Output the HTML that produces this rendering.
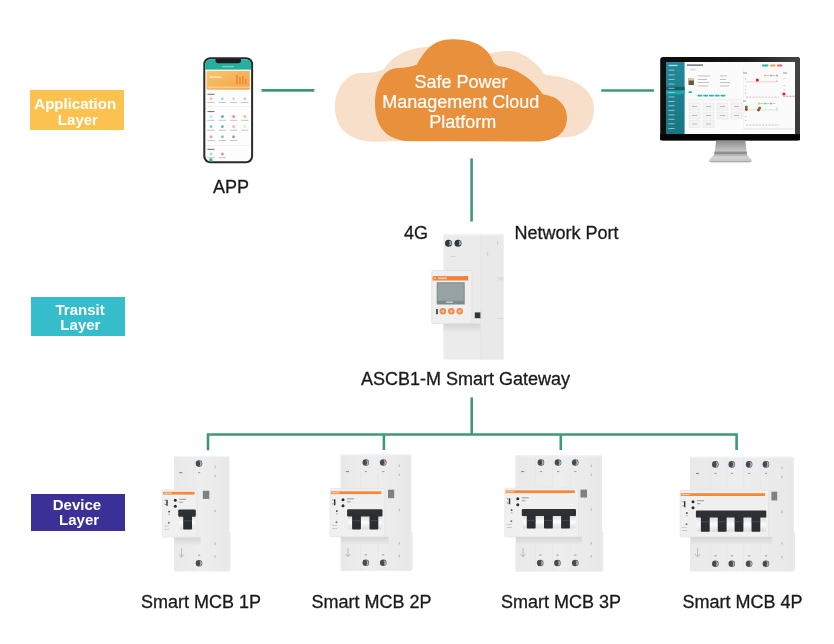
<!DOCTYPE html>
<html><head><meta charset="utf-8">
<style>
html,body{margin:0;padding:0;background:#fff;}
body{width:834px;height:644px;overflow:hidden;position:relative;font-family:"Liberation Sans",sans-serif;}
svg{position:absolute;left:0;top:0;will-change:transform;}
</style></head><body>
<svg width="834" height="644" viewBox="0 0 834 644">
<defs>
  <linearGradient id="banner" x1="0" y1="0" x2="1" y2="1">
    <stop offset="0" stop-color="#F9C56A"/><stop offset="1" stop-color="#F5A24A"/>
  </linearGradient>
  <linearGradient id="neck" x1="0" y1="0" x2="0" y2="1">
    <stop offset="0" stop-color="#8a8a8a"/><stop offset="0.8" stop-color="#c9c9c9"/><stop offset="1" stop-color="#d0d0d0"/>
  </linearGradient>
  <linearGradient id="base" x1="0" y1="0" x2="0" y2="1">
    <stop offset="0" stop-color="#a8a8a8"/><stop offset="0.3" stop-color="#d4d4d4"/><stop offset="0.8" stop-color="#c8c8c8"/><stop offset="1" stop-color="#8e8e8e"/>
  </linearGradient>
  <linearGradient id="side" x1="0" y1="0" x2="0" y2="1">
    <stop offset="0" stop-color="#23899A"/><stop offset="1" stop-color="#187584"/>
  </linearGradient>
  <filter id="soft" x="-5%" y="-5%" width="110%" height="110%" color-interpolation-filters="sRGB"><feGaussianBlur stdDeviation="0.35"/></filter>
  <linearGradient id="body" x1="0" y1="0" x2="1" y2="0">
    <stop offset="0" stop-color="#e6e6e6"/><stop offset="0.5" stop-color="#f0f0f0"/><stop offset="1" stop-color="#e2e2e2"/>
  </linearGradient>
  <linearGradient id="mcbbody" x1="0" y1="0" x2="1" y2="0">
    <stop offset="0" stop-color="#e9e9e9"/><stop offset="0.5" stop-color="#eeeeee"/><stop offset="1" stop-color="#e8e8e8"/>
  </linearGradient>
  <linearGradient id="shade" x1="0" y1="0" x2="0" y2="1">
    <stop offset="0" stop-color="#d4d4d4"/><stop offset="1" stop-color="#e9e9e9"/>
  </linearGradient>
  <linearGradient id="roller" x1="0" y1="0" x2="0" y2="1">
    <stop offset="0" stop-color="#d8d8d8"/><stop offset="0.5" stop-color="#fbfbfb"/><stop offset="1" stop-color="#dddddd"/>
  </linearGradient>
  <linearGradient id="bezel" x1="700" y1="60" x2="800" y2="120" gradientUnits="userSpaceOnUse">
    <stop offset="0" stop-color="#0e0e0e"/><stop offset="0.35" stop-color="#1a1a1a"/><stop offset="0.7" stop-color="#444"/><stop offset="1" stop-color="#3a3a3a"/>
  </linearGradient>
</defs>

<!-- layer boxes -->
<rect x="30" y="90" width="94" height="40" fill="#FBC24F"/>
<rect x="31" y="297" width="94" height="39" fill="#35BDCC"/>
<rect x="31" y="494" width="94" height="37" fill="#3A3096"/>
<g font-family="Liberation Sans" font-weight="bold" font-size="14" fill="#fff" text-anchor="middle">
  <text x="0" y="108.8" transform="translate(75.2 0) scale(1.075 1)">Application</text>
  <text x="0" y="124.7" transform="translate(77.9 0) scale(1.075 1)">Layer</text>
  <text x="0" y="314.7" transform="translate(80.1 0) scale(1.075 1)">Transit</text>
  <text x="0" y="329.9" transform="translate(80.4 0) scale(1.075 1)">Layer</text>
  <text x="0" y="509.7" transform="translate(76.9 0) scale(1.075 1)">Device</text>
  <text x="0" y="525.2" transform="translate(79.1 0) scale(1.075 1)">Layer</text>
</g>

<!-- green lines -->
<g stroke="#3C9B77" stroke-width="2.6" fill="none" stroke-linecap="butt">
  <line x1="261.5" y1="90.4" x2="314.3" y2="90.4"/>
  <line x1="601.2" y1="90.5" x2="653.9" y2="90.5"/>
  <line x1="471.6" y1="158.4" x2="471.6" y2="221.6"/>
  <line x1="471.7" y1="397.4" x2="471.7" y2="434.5"/>
  <polyline points="208,450.3 208,434.5 736.6,434.5 736.6,450"/>
  <line x1="383.9" y1="434.5" x2="383.9" y2="450"/>
  <line x1="560.8" y1="434.5" x2="560.8" y2="450"/>
</g>
<!-- cloud -->
<path d="M372 141.8 C346 140 335 126 335 107 C335 88 347 73 361 73 C372 73 379 72 384 69 C393 55 408 48 426 47 C445 46 460 50 475 58 C490 52 500 51 510 51 C520 51 533 60 540 68 C542 71 544 74 546 75 C575 77 594 90 594 108 C594 126 585 137 562 137.5 Z" fill="#F8DFC9"/>
<path d="M410 141.3 C385 140.5 375 125 375 104 C375 82 385 68 398 68 C406 68 412 66.5 417 64.5 C424 52 432 39.3 452 39.3 C472 39.3 487 45 493.5 62.4 C496 65 499 66.3 501 66.5 C520 69 535 82 543 94.6 C558 96 567 106 567 117.3 C567 132 557 141 538 141.5 Z" fill="#E8903B"/>
<g font-family="Liberation Sans" font-size="18" fill="#fff" stroke="#fff" stroke-width="0.2" text-anchor="middle">
  <text x="461" y="88.2">Safe Power</text>
  <text x="460.8" y="107.9">Management Cloud</text>
  <text x="462.8" y="127.6">Platform</text>
</g>

<!-- phone -->
<g filter="url(#soft)">
<rect x="203.3" y="57.3" width="49.8" height="106" rx="7" fill="#2a2a2a"/>
<rect x="205.3" y="59.2" width="45.8" height="102" rx="5.2" fill="#fdfdfd"/>
<path d="M205.3 69.8 V64.4 A5.2 5.2 0 0 1 210.5 59.2 H245.9 A5.2 5.2 0 0 1 251.1 64.4 V69.8 Z" fill="#26AE9F"/>
<path d="M215.5 59 H241 V60.5 Q241 63.3 238 63.3 H218.5 Q215.5 63.3 215.5 60.5 Z" fill="#1c1c1c"/>
<rect x="222" y="66.2" width="12" height="1" fill="#8fd6cc"/>
<rect x="205.3" y="69.8" width="45.8" height="1.2" fill="#e9f3f1"/>
<rect x="206.6" y="71" width="43.2" height="18.7" rx="1" fill="url(#banner)"/>
<rect x="209.5" y="76.5" width="12" height="1.2" fill="#fff3dc"/>
<rect x="209.5" y="79.8" width="7.5" height="1.6" fill="#c9c77a"/>
<rect x="236" y="75" width="1.8" height="9" fill="#EE8F3A"/>
<rect x="239" y="77" width="1.8" height="7" fill="#EE8F3A"/>
<rect x="242" y="75.8" width="1.8" height="8.2" fill="#EE8F3A"/>
<rect x="245" y="79" width="1.6" height="5" fill="#EE8F3A"/>
<rect x="206.6" y="86.5" width="43.2" height="1.6" fill="#f9c98a"/>
<rect x="207.5" y="93.80000000000001" width="7" height="1.1" fill="#777"/>
<circle cx="211" cy="98.8" r="1.5" fill="#F7C19B"/>
<rect x="207.4" y="102.0" width="7.2" height="1" fill="#c4c4c4"/>
<circle cx="222.4" cy="98.8" r="1.5" fill="#ABDFE1"/>
<rect x="218.8" y="102.0" width="7.2" height="1" fill="#c4c4c4"/>
<circle cx="233.6" cy="98.8" r="1.5" fill="#F9D1C1"/>
<rect x="230.0" y="102.0" width="7.2" height="1" fill="#c4c4c4"/>
<circle cx="244.8" cy="98.8" r="1.5" fill="#DBD6B2"/>
<rect x="241.20000000000002" y="102.0" width="7.2" height="1" fill="#c4c4c4"/>
<rect x="206.5" y="106" width="43.5" height="0.8" fill="#eeeeee"/>
<rect x="207.5" y="111.0" width="7" height="1.1" fill="#777"/>
<circle cx="211" cy="116.6" r="1.5" fill="#BFE6E6"/>
<rect x="207.4" y="119.8" width="7.2" height="1" fill="#c4c4c4"/>
<circle cx="222.4" cy="116.6" r="1.5" fill="#6CB49E"/>
<rect x="218.8" y="119.8" width="7.2" height="1" fill="#c4c4c4"/>
<circle cx="233.6" cy="116.6" r="1.5" fill="#F39388"/>
<rect x="230.0" y="119.8" width="7.2" height="1" fill="#c4c4c4"/>
<circle cx="244.8" cy="116.6" r="1.5" fill="#F6C77E"/>
<rect x="241.20000000000002" y="119.8" width="7.2" height="1" fill="#c4c4c4"/>
<circle cx="211" cy="126.5" r="1.5" fill="#8CCBD6"/>
<rect x="207.4" y="129.7" width="7.2" height="1" fill="#c4c4c4"/>
<circle cx="222.4" cy="126.5" r="1.5" fill="#77B6C1"/>
<rect x="218.8" y="129.7" width="7.2" height="1" fill="#c4c4c4"/>
<circle cx="233.6" cy="126.5" r="1.5" fill="#F8C1A2"/>
<rect x="230.0" y="129.7" width="7.2" height="1" fill="#c4c4c4"/>
<circle cx="244.8" cy="126.5" r="1.5" fill="#D5ECF3"/>
<rect x="241.20000000000002" y="129.7" width="7.2" height="1" fill="#c4c4c4"/>
<circle cx="211" cy="136.8" r="1.5" fill="#F09FAF"/>
<rect x="207.4" y="140.0" width="7.2" height="1" fill="#c4c4c4"/>
<circle cx="222.4" cy="136.8" r="1.5" fill="#8ACB9E"/>
<rect x="218.8" y="140.0" width="7.2" height="1" fill="#c4c4c4"/>
<circle cx="233.6" cy="136.8" r="1.5" fill="#9E9EB6"/>
<rect x="230.0" y="140.0" width="7.2" height="1" fill="#c4c4c4"/>
<rect x="206.5" y="145.2" width="43.5" height="0.8" fill="#eeeeee"/>
<rect x="207.5" y="148.8" width="7" height="1.1" fill="#777"/>
<circle cx="211" cy="154" r="1.5" fill="#A9DFD7"/>
<rect x="207.4" y="157.2" width="7.2" height="1" fill="#c4c4c4"/>
<circle cx="222.4" cy="154" r="1.5" fill="#F08AA9"/>
<rect x="218.8" y="157.2" width="7.2" height="1" fill="#c4c4c4"/>
<circle cx="210.8" cy="160" r="1.8" fill="#3BB3A0"/>
</g>
<!-- monitor -->
<g filter="url(#soft)">
<rect x="660.2" y="56.9" width="139.8" height="83.5" rx="3" fill="#0e0e0e"/>
<path fill-rule="evenodd" d="M700 56.9 H797 Q800 56.9 800 60 V134.3 H700 Z M700 62 V134 H795 V62 Z" fill="url(#bezel)"/>
<rect x="666" y="62" width="129" height="72" fill="#fbfbfb"/>
<rect x="666" y="62" width="18.6" height="72" fill="url(#side)"/>
<rect x="668.5" y="64.8" width="9" height="1.3" fill="#b5dbe0"/>
<rect x="666" y="86.8" width="18.6" height="3.4" fill="#155E6A"/>
<rect x="666" y="90.6" width="18.6" height="3.6" fill="#1FA7A8"/>
<rect x="668.5" y="69.7" width="6" height="0.9" fill="#9fcbd2"/>
<rect x="668.5" y="74.5" width="6" height="0.9" fill="#9fcbd2"/>
<rect x="668.5" y="79.0" width="6" height="0.9" fill="#9fcbd2"/>
<rect x="668.5" y="83.6" width="6" height="0.9" fill="#9fcbd2"/>
<rect x="668.5" y="87.8" width="6" height="0.9" fill="#9fcbd2"/>
<rect x="668.5" y="92.0" width="6" height="0.9" fill="#9fcbd2"/>
<rect x="668.5" y="96.5" width="6" height="0.9" fill="#9fcbd2"/>
<rect x="668.5" y="101.1" width="6" height="0.9" fill="#9fcbd2"/>
<rect x="668.5" y="105.3" width="6" height="0.9" fill="#9fcbd2"/>
<rect x="668.5" y="109.9" width="6" height="0.9" fill="#9fcbd2"/>
<rect x="668.5" y="114.4" width="6" height="0.9" fill="#9fcbd2"/>
<rect x="668.5" y="118.8" width="6" height="0.9" fill="#9fcbd2"/>
<rect x="668.5" y="123.4" width="6" height="0.9" fill="#9fcbd2"/>
<rect x="668.5" y="128.0" width="6" height="0.9" fill="#9fcbd2"/>
<rect x="687" y="64.5" width="16" height="1.2" fill="#555"/>
<rect x="690" y="68.8" width="6" height="1.6" rx="0.8" fill="#bde6df"/>
<rect x="688.5" y="78" width="5.5" height="7" fill="#6b5a3a"/>
<rect x="688.5" y="78" width="5.5" height="2.5" fill="#d8c9a0"/>
<rect x="688.5" y="91.3" width="3.5" height="1.8" rx="0.9" fill="#29B3A8"/>
<rect x="697.3" y="94.8" width="5" height="1.8" rx="0.8" fill="#26B8A8"/><rect x="703.1" y="94.8" width="5" height="1.8" rx="0.8" fill="#26B8A8"/><rect x="708.9" y="94.8" width="5" height="1.8" rx="0.8" fill="#26B8A8"/><rect x="714.7" y="94.8" width="5" height="1.8" rx="0.8" fill="#26B8A8"/><rect x="720.5" y="94.8" width="5" height="1.8" rx="0.8" fill="#26B8A8"/>
<rect x="698" y="75.5" width="12" height="0.9" fill="#bbb"/>
<rect x="698" y="79" width="9" height="0.9" fill="#bbb"/>
<rect x="698" y="82" width="11" height="0.9" fill="#bbb"/>
<rect x="698" y="85.5" width="10" height="0.9" fill="#bbb"/>
<rect x="720" y="75.5" width="7" height="0.9" fill="#bbb"/>
<rect x="720" y="79" width="6" height="0.9" fill="#bbb"/>
<rect x="720" y="82" width="10" height="0.9" fill="#bbb"/>
<rect x="720" y="85.5" width="9" height="0.9" fill="#bbb"/>
<rect x="687" y="99.6" width="55" height="0.6" fill="#e3e3e3"/>
<rect x="689" y="103" width="11" height="7" fill="#f3f3f3" stroke="#e2e2e2" stroke-width="0.5"/>
<rect x="692" y="106" width="5" height="0.9" fill="#b5b5b5"/>
<rect x="703" y="103" width="11" height="7" fill="#f3f3f3" stroke="#e2e2e2" stroke-width="0.5"/>
<rect x="706" y="106" width="5" height="0.9" fill="#b5b5b5"/>
<rect x="717" y="103" width="11" height="7" fill="#f3f3f3" stroke="#e2e2e2" stroke-width="0.5"/>
<rect x="720" y="106" width="5" height="0.9" fill="#b5b5b5"/>
<rect x="731" y="103" width="11" height="7" fill="#f3f3f3" stroke="#e2e2e2" stroke-width="0.5"/>
<rect x="734" y="106" width="5" height="0.9" fill="#b5b5b5"/>
<rect x="689" y="112" width="11" height="7" fill="#f3f3f3" stroke="#e2e2e2" stroke-width="0.5"/>
<rect x="692" y="115" width="5" height="0.9" fill="#b5b5b5"/>
<rect x="703" y="112" width="11" height="7" fill="#f3f3f3" stroke="#e2e2e2" stroke-width="0.5"/>
<rect x="706" y="115" width="5" height="0.9" fill="#b5b5b5"/>
<rect x="717" y="112" width="11" height="7" fill="#f3f3f3" stroke="#e2e2e2" stroke-width="0.5"/>
<rect x="720" y="115" width="5" height="0.9" fill="#b5b5b5"/>
<rect x="731" y="112" width="11" height="7" fill="#f3f3f3" stroke="#e2e2e2" stroke-width="0.5"/>
<rect x="734" y="115" width="5" height="0.9" fill="#b5b5b5"/>
<rect x="689" y="120.5" width="11" height="7" fill="#f3f3f3" stroke="#e2e2e2" stroke-width="0.5"/>
<rect x="692" y="123.5" width="5" height="0.9" fill="#b5b5b5"/>
<rect x="703" y="120.5" width="11" height="7" fill="#f3f3f3" stroke="#e2e2e2" stroke-width="0.5"/>
<rect x="706" y="123.5" width="5" height="0.9" fill="#b5b5b5"/>
<rect x="743" y="68" width="0.6" height="62" fill="#eeeeee"/>
<rect x="762" y="64.6" width="6.5" height="1.8" rx="0.9" fill="#22B5B5"/>
<rect x="770" y="64.6" width="5.5" height="1.8" rx="0.9" fill="#F5A53A"/>
<rect x="777" y="64.6" width="5.5" height="1.8" rx="0.9" fill="#F0607A"/>
<rect x="746" y="81.6" width="30" height="0.6" fill="#f2b0b0"/>
<rect x="746" y="109.6" width="32" height="0.6" fill="#b0e0b0"/>
<circle cx="757.3" cy="80" r="1.6" fill="#d42020"/>
<circle cx="783.9" cy="94" r="1.6" fill="#e02020"/><rect x="784" y="95.8" width="11" height="0.6" fill="#f2b0b0"/>
<circle cx="746.3" cy="107" r="1.5" fill="#1a9a4a"/>
<circle cx="746.3" cy="109.5" r="1.4" fill="#e02020"/>
<circle cx="759.6" cy="108" r="1.5" fill="#1a9a4a"/>
<circle cx="758.5" cy="110" r="1.4" fill="#e02020"/>
<line x1="746" y1="97.2" x2="779" y2="97.2" stroke="#b8b8b8" stroke-width="0.8" stroke-dasharray="2 1.2"/>
<line x1="746" y1="125" x2="779" y2="125" stroke="#b8b8b8" stroke-width="0.8" stroke-dasharray="2 1.2"/>
<line x1="783" y1="96.4" x2="795" y2="96.4" stroke="#b8b8b8" stroke-width="0.8" stroke-dasharray="2 1.2"/>
<rect x="743" y="72.5" width="4" height="1" fill="#9a9a9a"/>
<rect x="743" y="100.5" width="3" height="1" fill="#9a9a9a"/>
<rect x="783" y="72.5" width="4" height="1" fill="#9a9a9a"/>
<circle cx="765" cy="75.5" r="0.9" fill="#F5B040"/><rect x="766.3" y="75" width="3" height="0.8" fill="#bbb"/>
<circle cx="771" cy="75.5" r="0.9" fill="#5CC070"/><rect x="772.3" y="75" width="3" height="0.8" fill="#bbb"/>
<circle cx="777" cy="75.5" r="0.9" fill="#F07080"/>
<circle cx="759" cy="103.5" r="0.9" fill="#F5B040"/><rect x="760.3" y="103" width="3" height="0.8" fill="#bbb"/>
<circle cx="765" cy="103.5" r="0.9" fill="#5CC070"/><rect x="766.3" y="103" width="3" height="0.8" fill="#bbb"/>
<circle cx="771" cy="103.5" r="0.9" fill="#F07080"/><rect x="772.3" y="103" width="3" height="0.8" fill="#bbb"/>
<rect x="745" y="78.5" width="1.2" height="0.8" fill="#bbb"/>
<rect x="745" y="85.5" width="1.2" height="0.8" fill="#bbb"/>
<rect x="745" y="89.5" width="1.2" height="0.8" fill="#bbb"/>
<rect x="745" y="93" width="1.2" height="0.8" fill="#bbb"/>
<rect x="745" y="116" width="1.2" height="0.8" fill="#bbb"/>
<rect x="745" y="120" width="1.2" height="0.8" fill="#bbb"/>
<rect x="783.5" y="78" width="1.2" height="0.8" fill="#bbb"/>
<rect x="783.5" y="85" width="1.2" height="0.8" fill="#bbb"/>
<rect x="783.5" y="89" width="1.2" height="0.8" fill="#bbb"/>
<rect x="776" y="80.5" width="2" height="1.5" fill="#ccc"/>
<rect x="776" y="107.5" width="2" height="3" fill="#cfe5d5"/>

<rect x="744" y="128" width="51" height="1.8" fill="#e8f2ee"/>
<rect x="660.2" y="134.3" width="139.8" height="6" fill="#050505"/>
<path d="M716.2 140.4 H745.3 L746.8 154.5 H714.4 Z" fill="url(#neck)"/>
<rect x="714.4" y="151.5" width="32.4" height="3" fill="#8e8e8e"/>
<path d="M714.4 154.5 H746.8 L751.8 160 Q751.8 162.3 749 162.3 H712 Q709 162.3 709 160 Z" fill="url(#base)"/>
</g>
<!-- gateway -->
<g filter="url(#soft)">
<rect x="443.5" y="234.2" width="60" height="125.2" rx="1.5" fill="#ebebeb"/>
<rect x="480" y="234.2" width="23.5" height="125.2" fill="#e9e9e9"/>
<rect x="480" y="234.2" width="0.5" height="125.2" fill="#e2e2e2"/>
<rect x="443.5" y="234.2" width="60" height="1.2" fill="#f4f4f4"/>
<rect x="498" y="277" width="5.5" height="3.5" fill="#dddddd"/>
<rect x="498" y="318" width="5.5" height="1" fill="#d6d6d6"/>
<rect x="487" y="252" width="1.2" height="4" fill="#d0d0d0"/>
<rect x="497" y="241" width="1.2" height="4" fill="#d0d0d0"/>
<rect x="450" y="256" width="6" height="0.8" fill="#d2d2d2"/>
<circle cx="448.5" cy="243.2" r="3.5" fill="#30363e"/>
<circle cx="458" cy="243.2" r="3.5" fill="#30363e"/>
<path d="M449.1 240.8 A2.4 2.4 0 0 1 449.1 245.6 Q450.4 243.2 449.1 240.8 Z" fill="#a8b0b8"/>
<path d="M458.6 240.8 A2.4 2.4 0 0 1 458.6 245.6 Q459.9 243.2 458.6 240.8 Z" fill="#a8b0b8"/>
<rect x="443.5" y="323.6" width="37" height="9" fill="url(#shade)"/>
<rect x="431.7" y="270.5" width="40.3" height="53.1" rx="1" fill="#efefef" stroke="#dadada" stroke-width="0.6"/>
<rect x="432.6" y="276.1" width="35.6" height="4.4" fill="#F0803A"/>
<rect x="434" y="277.5" width="2" height="1.5" fill="#fbd3b0"/>
<rect x="438" y="277.3" width="9" height="2" fill="#f9c49a"/>
<rect x="436.7" y="282.3" width="28" height="22.2" rx="0.6" fill="#7b8a90"/>
<rect x="437.7" y="283.3" width="26" height="17.5" fill="#98a2a2"/>
<rect x="446" y="301.5" width="7" height="1.4" fill="#c8d0d2"/>
<rect x="436.2" y="309" width="1.6" height="5.2" fill="#333"/>
<circle cx="442.9" cy="311.3" r="3.3" fill="#F08C4C"/>
<circle cx="451.3" cy="311.3" r="3.3" fill="#F08C4C"/>
<circle cx="459.7" cy="311.3" r="3.3" fill="#F08C4C"/>
<circle cx="442.9" cy="311.3" r="1.5" fill="#f6b98c"/>
<circle cx="451.3" cy="311.3" r="1.5" fill="#f6b98c"/>
<circle cx="459.7" cy="311.3" r="1.5" fill="#f6b98c"/>
<rect x="474.8" y="312.4" width="5.6" height="5.8" fill="#2c3a40"/>
<rect x="481" y="309" width="1" height="11" fill="#e0e0e0"/>
</g>
<g id="mcbs" filter="url(#soft)">
<!-- MCB 1P -->
<rect x="174" y="456" width="55.3" height="115.5" rx="1" fill="url(#mcbbody)"/>
<rect x="227.5" y="532.3" width="3" height="38.2" fill="#e9e9e9"/>
<rect x="174.0" y="456.0" width="55.3" height="1" fill="#f3f3f3"/>
<rect x="193.5" y="457" width="0.5" height="30.7" fill="#e2e2e2"/>
<rect x="193.5" y="545.3" width="0.5" height="25.2" fill="#e2e2e2"/>
<rect x="179.3" y="472.1" width="3" height="1.1" fill="#888"/>
<rect x="198.0" y="472.1" width="2.2" height="1.1" fill="#a0a0a0"/>
<rect x="198.0" y="554.7" width="2.2" height="1.1" fill="#a0a0a0"/>
<rect x="214.5" y="465.6" width="1.1" height="2.6" rx="0.5" fill="#b8b8b8"/>
<rect x="214.5" y="474.6" width="1.1" height="2.6" rx="0.5" fill="#b8b8b8"/>
<rect x="214.5" y="509.7" width="1.1" height="2.6" rx="0.5" fill="#b8b8b8"/>
<rect x="214.5" y="542.3" width="1.1" height="2.6" rx="0.5" fill="#b8b8b8"/>
<rect x="214.5" y="555.2" width="1.1" height="2.6" rx="0.5" fill="#b8b8b8"/>
<circle cx="199.0" cy="463.6" r="3.3" fill="#454b53"/><path d="M199.3 461.0 A2.6 2.6 0 0 1 199.3 466.2 Q201.2 463.6 199.3 461.0 Z" fill="#aab2b9"/>
<circle cx="199.0" cy="563.2" r="3.3" fill="#454b53"/><path d="M199.3 560.6 A2.6 2.6 0 0 1 199.3 565.8 Q201.2 563.2 199.3 560.6 Z" fill="#aab2b9"/>
<rect x="174.5" y="537.3" width="26.0" height="7.5" fill="url(#shade)"/>
<path d="M181.5 548.3 V556.3 M179.0 554.3 L181.5 557.3 L184.0 554.3" stroke="#9a9a9a" stroke-width="0.6" fill="none"/>
<rect x="162.3" y="489.7" width="34.7" height="47.6" rx="0.8" fill="#f0f0f0" stroke="#dcdcdc" stroke-width="0.5"/>
<rect x="163.1" y="491.8" width="31.5" height="2.8" fill="#F28A3A"/>
<rect x="163.8" y="492.6" width="8" height="1.2" fill="#f8c8a0"/>
<rect x="166.3" y="499.8" width="1.4" height="6" fill="#333"/>
<rect x="164.8" y="499.8" width="0.9" height="1.2" fill="#555"/>
<rect x="164.8" y="503.8" width="0.9" height="1.2" fill="#555"/>
<circle cx="175.3" cy="500.3" r="1.5" fill="#2c2c2c"/>
<circle cx="175.3" cy="506.3" r="1.5" fill="#2c2c2c"/>
<rect x="168.3" y="510.8" width="1.6" height="1.6" fill="#444"/>
<rect x="168.3" y="513.8" width="1.6" height="1" fill="#aaa"/>
<circle cx="168.8" cy="522.8" r="1" fill="#777"/>
<rect x="164.3" y="525.8" width="5" height="0.7" fill="#bbb"/>
<rect x="164.3" y="528.8" width="5" height="0.7" fill="#bbb"/>
<rect x="179.3" y="498.8" width="7" height="1" fill="#999"/>
<rect x="179.3" y="501.8" width="3.5" height="1" fill="#999"/>
<rect x="179.0" y="515.5" width="16.4" height="14.0" rx="1.5" fill="url(#roller)"/>
<rect x="178.2" y="509.5" width="17.6" height="7.2" rx="1.2" fill="#2d3034"/>
<rect x="183.2" y="515.5" width="8.8" height="14.0" rx="0.8" fill="#2a2d31"/>
<rect x="183.2" y="520.5" width="8.8" height="0.8" fill="#4c5056"/>
<rect x="202.8" y="490.8" width="6.5" height="8.1" fill="#808080"/>
<!-- MCB 2P -->
<rect x="340.5" y="454.5" width="70.8" height="116.5" rx="1" fill="url(#mcbbody)"/>
<rect x="409.5" y="531.9" width="3" height="38.1" fill="#e9e9e9"/>
<rect x="340.5" y="454.5" width="70.8" height="1" fill="#f3f3f3"/>
<rect x="360.3" y="455.5" width="0.5" height="31.1" fill="#e2e2e2"/>
<rect x="360.3" y="544.9" width="0.5" height="25.1" fill="#e2e2e2"/>
<rect x="377.7" y="455.5" width="0.5" height="31.1" fill="#e2e2e2"/>
<rect x="377.7" y="544.9" width="0.5" height="25.1" fill="#e2e2e2"/>
<rect x="345.9" y="471.0" width="3" height="1.1" fill="#888"/>
<rect x="364.8" y="471.0" width="2.2" height="1.1" fill="#a0a0a0"/>
<rect x="364.8" y="554.3" width="2.2" height="1.1" fill="#a0a0a0"/>
<rect x="382.2" y="471.0" width="2.2" height="1.1" fill="#a0a0a0"/>
<rect x="382.2" y="554.3" width="2.2" height="1.1" fill="#a0a0a0"/>
<rect x="398.7" y="464.5" width="1.1" height="2.6" rx="0.5" fill="#b8b8b8"/>
<rect x="398.7" y="473.5" width="1.1" height="2.6" rx="0.5" fill="#b8b8b8"/>
<rect x="398.7" y="508.6" width="1.1" height="2.6" rx="0.5" fill="#b8b8b8"/>
<rect x="398.7" y="541.9" width="1.1" height="2.6" rx="0.5" fill="#b8b8b8"/>
<rect x="398.7" y="554.8" width="1.1" height="2.6" rx="0.5" fill="#b8b8b8"/>
<circle cx="365.8" cy="462.5" r="3.3" fill="#454b53"/><path d="M366.1 459.9 A2.6 2.6 0 0 1 366.1 465.1 Q368.0 462.5 366.1 459.9 Z" fill="#aab2b9"/>
<circle cx="383.2" cy="462.5" r="3.3" fill="#454b53"/><path d="M383.5 459.9 A2.6 2.6 0 0 1 383.5 465.1 Q385.4 462.5 383.5 459.9 Z" fill="#aab2b9"/>
<circle cx="365.8" cy="562.8" r="3.3" fill="#454b53"/><path d="M366.1 560.2 A2.6 2.6 0 0 1 366.1 565.4 Q368.0 562.8 366.1 560.2 Z" fill="#aab2b9"/>
<circle cx="383.2" cy="562.8" r="3.3" fill="#454b53"/><path d="M383.5 560.2 A2.6 2.6 0 0 1 383.5 565.4 Q385.4 562.8 383.5 560.2 Z" fill="#aab2b9"/>
<rect x="341.0" y="536.9" width="47.5" height="7.5" fill="url(#shade)"/>
<path d="M348.0 547.9 V555.9 M345.5 553.9 L348.0 556.9 L350.5 553.9" stroke="#9a9a9a" stroke-width="0.6" fill="none"/>
<rect x="330" y="488.6" width="55.0" height="48.3" rx="0.8" fill="#f0f0f0" stroke="#dcdcdc" stroke-width="0.5"/>
<rect x="330.8" y="491.3" width="50.5" height="2.8" fill="#F28A3A"/>
<rect x="331.5" y="492.1" width="8" height="1.2" fill="#f8c8a0"/>
<rect x="334.0" y="499.3" width="1.4" height="6" fill="#333"/>
<rect x="332.5" y="499.3" width="0.9" height="1.2" fill="#555"/>
<rect x="332.5" y="503.3" width="0.9" height="1.2" fill="#555"/>
<circle cx="343.0" cy="499.8" r="1.5" fill="#2c2c2c"/>
<circle cx="343.0" cy="505.8" r="1.5" fill="#2c2c2c"/>
<rect x="336.0" y="510.3" width="1.6" height="1.6" fill="#444"/>
<rect x="336.0" y="513.3" width="1.6" height="1" fill="#aaa"/>
<circle cx="336.5" cy="522.3" r="1" fill="#777"/>
<rect x="332.0" y="525.3" width="5" height="0.7" fill="#bbb"/>
<rect x="332.0" y="528.3" width="5" height="0.7" fill="#bbb"/>
<rect x="347.0" y="498.3" width="7" height="1" fill="#999"/>
<rect x="347.0" y="501.3" width="3.5" height="1" fill="#999"/>
<rect x="347.9" y="515.3" width="34.2" height="14.1" rx="1.5" fill="url(#roller)"/>
<rect x="347.1" y="509.3" width="35.4" height="7.2" rx="1.2" fill="#2d3034"/>
<rect x="352.1" y="515.3" width="8.8" height="14.1" rx="0.8" fill="#2a2d31"/>
<rect x="352.1" y="520.3" width="8.8" height="0.8" fill="#4c5056"/>
<rect x="369.5" y="515.3" width="8.8" height="14.1" rx="0.8" fill="#2a2d31"/>
<rect x="369.5" y="520.3" width="8.8" height="0.8" fill="#4c5056"/>
<rect x="388" y="489.7" width="6.2" height="8.5" fill="#808080"/>
<!-- MCB 3P -->
<rect x="515.5" y="455.3" width="86.6" height="116.5" rx="1" fill="url(#mcbbody)"/>
<rect x="600.3" y="532.0" width="3" height="38.8" fill="#e9e9e9"/>
<rect x="515.5" y="455.3" width="86.6" height="1" fill="#f3f3f3"/>
<rect x="535.4" y="456.3" width="0.5" height="29.9" fill="#e2e2e2"/>
<rect x="535.4" y="545" width="0.5" height="25.8" fill="#e2e2e2"/>
<rect x="552.5" y="456.3" width="0.5" height="29.9" fill="#e2e2e2"/>
<rect x="552.5" y="545" width="0.5" height="25.8" fill="#e2e2e2"/>
<rect x="569.7" y="456.3" width="0.5" height="29.9" fill="#e2e2e2"/>
<rect x="569.7" y="545" width="0.5" height="25.8" fill="#e2e2e2"/>
<rect x="521.2" y="471.0" width="3" height="1.1" fill="#888"/>
<rect x="539.9" y="471.0" width="2.2" height="1.1" fill="#a0a0a0"/>
<rect x="539.2" y="554.5" width="2.2" height="1.1" fill="#a0a0a0"/>
<rect x="557.0" y="471.0" width="2.2" height="1.1" fill="#a0a0a0"/>
<rect x="556.4" y="554.5" width="2.2" height="1.1" fill="#a0a0a0"/>
<rect x="574.2" y="471.0" width="2.2" height="1.1" fill="#a0a0a0"/>
<rect x="574.2" y="554.5" width="2.2" height="1.1" fill="#a0a0a0"/>
<rect x="590.7" y="464.5" width="1.1" height="2.6" rx="0.5" fill="#b8b8b8"/>
<rect x="590.7" y="473.5" width="1.1" height="2.6" rx="0.5" fill="#b8b8b8"/>
<rect x="590.7" y="508.2" width="1.1" height="2.6" rx="0.5" fill="#b8b8b8"/>
<rect x="590.7" y="542.0" width="1.1" height="2.6" rx="0.5" fill="#b8b8b8"/>
<rect x="590.7" y="555.0" width="1.1" height="2.6" rx="0.5" fill="#b8b8b8"/>
<circle cx="540.9" cy="462.5" r="3.3" fill="#454b53"/><path d="M541.2 459.9 A2.6 2.6 0 0 1 541.2 465.1 Q543.1 462.5 541.2 459.9 Z" fill="#aab2b9"/>
<circle cx="558.0" cy="462.5" r="3.3" fill="#454b53"/><path d="M558.3 459.9 A2.6 2.6 0 0 1 558.3 465.1 Q560.2 462.5 558.3 459.9 Z" fill="#aab2b9"/>
<circle cx="575.2" cy="462.5" r="3.3" fill="#454b53"/><path d="M575.5 459.9 A2.6 2.6 0 0 1 575.5 465.1 Q577.4 462.5 575.5 459.9 Z" fill="#aab2b9"/>
<circle cx="540.2" cy="563.0" r="3.3" fill="#454b53"/><path d="M540.5 560.4 A2.6 2.6 0 0 1 540.5 565.6 Q542.4 563.0 540.5 560.4 Z" fill="#aab2b9"/>
<circle cx="557.4" cy="563.0" r="3.3" fill="#454b53"/><path d="M557.7 560.4 A2.6 2.6 0 0 1 557.7 565.6 Q559.6 563.0 557.7 560.4 Z" fill="#aab2b9"/>
<circle cx="575.2" cy="563.0" r="3.3" fill="#454b53"/><path d="M575.5 560.4 A2.6 2.6 0 0 1 575.5 565.6 Q577.4 563.0 575.5 560.4 Z" fill="#aab2b9"/>
<rect x="516.0" y="537.0" width="66.0" height="7.5" fill="url(#shade)"/>
<path d="M523.0 548.0 V556.0 M520.5 554.0 L523.0 557.0 L525.5 554.0" stroke="#9a9a9a" stroke-width="0.6" fill="none"/>
<rect x="504.8" y="488.2" width="73.7" height="48.8" rx="0.8" fill="#f0f0f0" stroke="#dcdcdc" stroke-width="0.5"/>
<rect x="505.6" y="490.3" width="69.2" height="2.8" fill="#F28A3A"/>
<rect x="506.3" y="491.1" width="8" height="1.2" fill="#f8c8a0"/>
<rect x="508.8" y="498.3" width="1.4" height="6" fill="#333"/>
<rect x="507.3" y="498.3" width="0.9" height="1.2" fill="#555"/>
<rect x="507.3" y="502.3" width="0.9" height="1.2" fill="#555"/>
<circle cx="517.8" cy="498.8" r="1.5" fill="#2c2c2c"/>
<circle cx="517.8" cy="504.8" r="1.5" fill="#2c2c2c"/>
<rect x="510.8" y="509.3" width="1.6" height="1.6" fill="#444"/>
<rect x="510.8" y="512.3" width="1.6" height="1" fill="#aaa"/>
<circle cx="511.3" cy="521.3" r="1" fill="#777"/>
<rect x="506.8" y="524.3" width="5" height="0.7" fill="#bbb"/>
<rect x="506.8" y="527.3" width="5" height="0.7" fill="#bbb"/>
<rect x="521.8" y="497.3" width="7" height="1" fill="#999"/>
<rect x="521.8" y="500.3" width="3.5" height="1" fill="#999"/>
<rect x="522.6" y="514.9" width="53.0" height="13.6" rx="1.5" fill="url(#roller)"/>
<rect x="521.8" y="508.9" width="54.2" height="7.2" rx="1.2" fill="#2d3034"/>
<rect x="526.8" y="514.9" width="8.8" height="13.6" rx="0.8" fill="#2a2d31"/>
<rect x="526.8" y="519.9" width="8.8" height="0.8" fill="#4c5056"/>
<rect x="544.0" y="514.9" width="8.8" height="13.6" rx="0.8" fill="#2a2d31"/>
<rect x="544.0" y="519.9" width="8.8" height="0.8" fill="#4c5056"/>
<rect x="561.1" y="514.9" width="8.8" height="13.6" rx="0.8" fill="#2a2d31"/>
<rect x="561.1" y="519.9" width="8.8" height="0.8" fill="#4c5056"/>
<rect x="580.5" y="489.6" width="6.5" height="7.9" fill="#808080"/>
<!-- MCB 4P -->
<rect x="690.1" y="456.8" width="103.7" height="114.7" rx="1" fill="url(#mcbbody)"/>
<rect x="792.0" y="532.0" width="3" height="38.5" fill="#e9e9e9"/>
<rect x="690.1" y="456.8" width="103.7" height="1" fill="#f3f3f3"/>
<rect x="709.8" y="457.8" width="0.5" height="30.5" fill="#e2e2e2"/>
<rect x="709.8" y="545" width="0.5" height="25.5" fill="#e2e2e2"/>
<rect x="726.3" y="457.8" width="0.5" height="30.5" fill="#e2e2e2"/>
<rect x="726.3" y="545" width="0.5" height="25.5" fill="#e2e2e2"/>
<rect x="743.6" y="457.8" width="0.5" height="30.5" fill="#e2e2e2"/>
<rect x="743.6" y="545" width="0.5" height="25.5" fill="#e2e2e2"/>
<rect x="760.4" y="457.8" width="0.5" height="30.5" fill="#e2e2e2"/>
<rect x="760.4" y="545" width="0.5" height="25.5" fill="#e2e2e2"/>
<rect x="695.9" y="472.9" width="3" height="1.1" fill="#888"/>
<rect x="714.3" y="472.9" width="2.2" height="1.1" fill="#a0a0a0"/>
<rect x="714.3" y="555.3" width="2.2" height="1.1" fill="#a0a0a0"/>
<rect x="730.8" y="472.9" width="2.2" height="1.1" fill="#a0a0a0"/>
<rect x="730.8" y="555.3" width="2.2" height="1.1" fill="#a0a0a0"/>
<rect x="748.1" y="472.9" width="2.2" height="1.1" fill="#a0a0a0"/>
<rect x="748.1" y="555.3" width="2.2" height="1.1" fill="#a0a0a0"/>
<rect x="764.9" y="472.9" width="2.2" height="1.1" fill="#a0a0a0"/>
<rect x="764.9" y="555.3" width="2.2" height="1.1" fill="#a0a0a0"/>
<rect x="781.4" y="466.4" width="1.1" height="2.6" rx="0.5" fill="#b8b8b8"/>
<rect x="781.4" y="475.4" width="1.1" height="2.6" rx="0.5" fill="#b8b8b8"/>
<rect x="781.4" y="510.3" width="1.1" height="2.6" rx="0.5" fill="#b8b8b8"/>
<rect x="781.4" y="542.0" width="1.1" height="2.6" rx="0.5" fill="#b8b8b8"/>
<rect x="781.4" y="555.8" width="1.1" height="2.6" rx="0.5" fill="#b8b8b8"/>
<circle cx="715.3" cy="464.4" r="3.3" fill="#454b53"/><path d="M715.6 461.8 A2.6 2.6 0 0 1 715.6 467.0 Q717.5 464.4 715.6 461.8 Z" fill="#aab2b9"/>
<circle cx="731.8" cy="464.4" r="3.3" fill="#454b53"/><path d="M732.1 461.8 A2.6 2.6 0 0 1 732.1 467.0 Q734.0 464.4 732.1 461.8 Z" fill="#aab2b9"/>
<circle cx="749.1" cy="464.4" r="3.3" fill="#454b53"/><path d="M749.4 461.8 A2.6 2.6 0 0 1 749.4 467.0 Q751.3 464.4 749.4 461.8 Z" fill="#aab2b9"/>
<circle cx="765.9" cy="464.4" r="3.3" fill="#454b53"/><path d="M766.2 461.8 A2.6 2.6 0 0 1 766.2 467.0 Q768.1 464.4 766.2 461.8 Z" fill="#aab2b9"/>
<circle cx="715.3" cy="563.8" r="3.3" fill="#454b53"/><path d="M715.6 561.2 A2.6 2.6 0 0 1 715.6 566.4 Q717.5 563.8 715.6 561.2 Z" fill="#aab2b9"/>
<circle cx="731.8" cy="563.8" r="3.3" fill="#454b53"/><path d="M732.1 561.2 A2.6 2.6 0 0 1 732.1 566.4 Q734.0 563.8 732.1 561.2 Z" fill="#aab2b9"/>
<circle cx="749.1" cy="563.8" r="3.3" fill="#454b53"/><path d="M749.4 561.2 A2.6 2.6 0 0 1 749.4 566.4 Q751.3 563.8 749.4 561.2 Z" fill="#aab2b9"/>
<circle cx="765.9" cy="563.8" r="3.3" fill="#454b53"/><path d="M766.2 561.2 A2.6 2.6 0 0 1 766.2 566.4 Q768.1 563.8 766.2 561.2 Z" fill="#aab2b9"/>
<rect x="690.6" y="537.0" width="81.4" height="7.5" fill="url(#shade)"/>
<path d="M697.6 548.0 V556.0 M695.1 554.0 L697.6 557.0 L700.1 554.0" stroke="#9a9a9a" stroke-width="0.6" fill="none"/>
<rect x="680" y="490.3" width="88.5" height="46.7" rx="0.8" fill="#f0f0f0" stroke="#dcdcdc" stroke-width="0.5"/>
<rect x="680.8" y="493.2" width="84.3" height="2.8" fill="#F28A3A"/>
<rect x="681.5" y="494.0" width="8" height="1.2" fill="#f8c8a0"/>
<rect x="684.0" y="501.2" width="1.4" height="6" fill="#333"/>
<rect x="682.5" y="501.2" width="0.9" height="1.2" fill="#555"/>
<rect x="682.5" y="505.2" width="0.9" height="1.2" fill="#555"/>
<circle cx="693.0" cy="501.7" r="1.5" fill="#2c2c2c"/>
<circle cx="693.0" cy="507.7" r="1.5" fill="#2c2c2c"/>
<rect x="686.0" y="512.2" width="1.6" height="1.6" fill="#444"/>
<rect x="686.0" y="515.2" width="1.6" height="1" fill="#aaa"/>
<circle cx="686.5" cy="524.2" r="1" fill="#777"/>
<rect x="682.0" y="527.2" width="5" height="0.7" fill="#bbb"/>
<rect x="682.0" y="530.2" width="5" height="0.7" fill="#bbb"/>
<rect x="697.0" y="500.2" width="7" height="1" fill="#999"/>
<rect x="697.0" y="503.2" width="3.5" height="1" fill="#999"/>
<rect x="696.7" y="516.4" width="69.2" height="15.4" rx="1.5" fill="url(#roller)"/>
<rect x="695.9" y="510.4" width="70.4" height="7.2" rx="1.2" fill="#2d3034"/>
<rect x="700.9" y="516.4" width="8.8" height="15.4" rx="0.8" fill="#2a2d31"/>
<rect x="700.9" y="521.4" width="8.8" height="0.8" fill="#4c5056"/>
<rect x="717.8" y="516.4" width="8.8" height="15.4" rx="0.8" fill="#2a2d31"/>
<rect x="717.8" y="521.4" width="8.8" height="0.8" fill="#4c5056"/>
<rect x="734.6" y="516.4" width="8.8" height="15.4" rx="0.8" fill="#2a2d31"/>
<rect x="734.6" y="521.4" width="8.8" height="0.8" fill="#4c5056"/>
<rect x="751.5" y="516.4" width="8.8" height="15.4" rx="0.8" fill="#2a2d31"/>
<rect x="751.5" y="521.4" width="8.8" height="0.8" fill="#4c5056"/>
<rect x="771.4" y="491.7" width="5.8" height="8.7" fill="#808080"/>
</g>
<!-- labels -->
<g font-family="Liberation Sans" font-size="18" fill="#1a1a1a" stroke="#1a1a1a" stroke-width="0.3">
  <text x="213" y="192.7">APP</text>
  <text x="404" y="238.5">4G</text>
  <text x="514.5" y="238.5">Network Port</text>
  <text x="361" y="385">ASCB1-M Smart Gateway</text>
  <text x="141" y="608">Smart MCB 1P</text>
  <text x="311.5" y="608">Smart MCB 2P</text>
  <text x="501" y="608">Smart MCB 3P</text>
  <text x="682.5" y="608">Smart MCB 4P</text>
</g>
</svg>
</body></html>
